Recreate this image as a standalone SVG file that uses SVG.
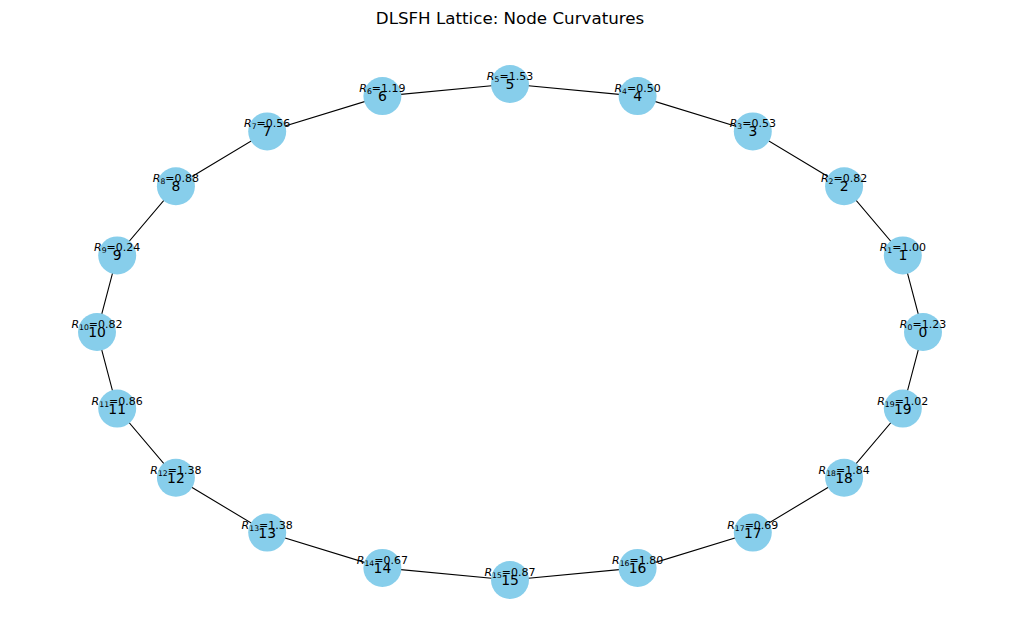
<svg xmlns="http://www.w3.org/2000/svg" width="1019" height="642" viewBox="0 0 1019 642">
<style>
.bg{fill:#ffffff}
.title{font-family:"DejaVu Sans",sans-serif;font-size:16.7px;fill:#000;text-anchor:middle}
.edge{fill:none;stroke:#000;stroke-width:1.1}
.node circle{fill:#87CEEB;stroke:none}
.num{font-family:"DejaVu Sans",sans-serif;font-size:13.9px;fill:#000;text-anchor:middle}
.lab{font-family:"DejaVu Sans",sans-serif;font-size:11px;fill:#000;text-anchor:middle}
.r{font-style:italic}
.sub{font-size:7.7px}
</style>
<rect class="bg" x="0" y="0" width="1019" height="642"/>
<text class="title" x="510" y="24">DLSFH Lattice: Node Curvatures</text>
<g id="edges">
<polygon class="edge" points="923,332 902.8,255.4 844.1,186.2 752.8,131.4 637.6,96.1 510,84 382.4,96.1 267.2,131.4 175.9,186.2 117.2,255.4 97,332 117.2,408.6 175.9,477.8 267.2,532.6 382.4,567.9 510,580 637.6,567.9 752.8,532.6 844.1,477.8 902.8,408.6"/>
</g>
<g id="node0" class="node"><circle cx="923" cy="332" r="19"/><text class="num" x="923" y="337">0</text><text class="lab" x="923" y="328"><tspan class="r">R</tspan><tspan class="sub" dy="2">0</tspan><tspan dy="-2">=1.23</tspan></text></g>
<g id="node1" class="node"><circle cx="902.8" cy="255.4" r="19"/><text class="num" x="902.8" y="260.4">1</text><text class="lab" x="902.8" y="251.4"><tspan class="r">R</tspan><tspan class="sub" dy="2">1</tspan><tspan dy="-2">=1.00</tspan></text></g>
<g id="node2" class="node"><circle cx="844.1" cy="186.2" r="19"/><text class="num" x="844.1" y="191.2">2</text><text class="lab" x="844.1" y="182.2"><tspan class="r">R</tspan><tspan class="sub" dy="2">2</tspan><tspan dy="-2">=0.82</tspan></text></g>
<g id="node3" class="node"><circle cx="752.8" cy="131.4" r="19"/><text class="num" x="752.8" y="136.4">3</text><text class="lab" x="752.8" y="127.4"><tspan class="r">R</tspan><tspan class="sub" dy="2">3</tspan><tspan dy="-2">=0.53</tspan></text></g>
<g id="node4" class="node"><circle cx="637.6" cy="96.1" r="19"/><text class="num" x="637.6" y="101.1">4</text><text class="lab" x="637.6" y="92.1"><tspan class="r">R</tspan><tspan class="sub" dy="2">4</tspan><tspan dy="-2">=0.50</tspan></text></g>
<g id="node5" class="node"><circle cx="510" cy="84" r="19"/><text class="num" x="510" y="89">5</text><text class="lab" x="510" y="80"><tspan class="r">R</tspan><tspan class="sub" dy="2">5</tspan><tspan dy="-2">=1.53</tspan></text></g>
<g id="node6" class="node"><circle cx="382.4" cy="96.1" r="19"/><text class="num" x="382.4" y="101.1">6</text><text class="lab" x="382.4" y="92.1"><tspan class="r">R</tspan><tspan class="sub" dy="2">6</tspan><tspan dy="-2">=1.19</tspan></text></g>
<g id="node7" class="node"><circle cx="267.2" cy="131.4" r="19"/><text class="num" x="267.2" y="136.4">7</text><text class="lab" x="267.2" y="127.4"><tspan class="r">R</tspan><tspan class="sub" dy="2">7</tspan><tspan dy="-2">=0.56</tspan></text></g>
<g id="node8" class="node"><circle cx="175.9" cy="186.2" r="19"/><text class="num" x="175.9" y="191.2">8</text><text class="lab" x="175.9" y="182.2"><tspan class="r">R</tspan><tspan class="sub" dy="2">8</tspan><tspan dy="-2">=0.88</tspan></text></g>
<g id="node9" class="node"><circle cx="117.2" cy="255.4" r="19"/><text class="num" x="117.2" y="260.4">9</text><text class="lab" x="117.2" y="251.4"><tspan class="r">R</tspan><tspan class="sub" dy="2">9</tspan><tspan dy="-2">=0.24</tspan></text></g>
<g id="node10" class="node"><circle cx="97" cy="332" r="19"/><text class="num" x="97" y="337">10</text><text class="lab" x="97" y="328"><tspan class="r">R</tspan><tspan class="sub" dy="2">10</tspan><tspan dy="-2">=0.82</tspan></text></g>
<g id="node11" class="node"><circle cx="117.2" cy="408.6" r="19"/><text class="num" x="117.2" y="413.6">11</text><text class="lab" x="117.2" y="404.6"><tspan class="r">R</tspan><tspan class="sub" dy="2">11</tspan><tspan dy="-2">=0.86</tspan></text></g>
<g id="node12" class="node"><circle cx="175.9" cy="477.8" r="19"/><text class="num" x="175.9" y="482.8">12</text><text class="lab" x="175.9" y="473.8"><tspan class="r">R</tspan><tspan class="sub" dy="2">12</tspan><tspan dy="-2">=1.38</tspan></text></g>
<g id="node13" class="node"><circle cx="267.2" cy="532.6" r="19"/><text class="num" x="267.2" y="537.6">13</text><text class="lab" x="267.2" y="528.6"><tspan class="r">R</tspan><tspan class="sub" dy="2">13</tspan><tspan dy="-2">=1.38</tspan></text></g>
<g id="node14" class="node"><circle cx="382.4" cy="567.9" r="19"/><text class="num" x="382.4" y="572.9">14</text><text class="lab" x="382.4" y="563.9"><tspan class="r">R</tspan><tspan class="sub" dy="2">14</tspan><tspan dy="-2">=0.67</tspan></text></g>
<g id="node15" class="node"><circle cx="510" cy="580" r="19"/><text class="num" x="510" y="585">15</text><text class="lab" x="510" y="576"><tspan class="r">R</tspan><tspan class="sub" dy="2">15</tspan><tspan dy="-2">=0.87</tspan></text></g>
<g id="node16" class="node"><circle cx="637.6" cy="567.9" r="19"/><text class="num" x="637.6" y="572.9">16</text><text class="lab" x="637.6" y="563.9"><tspan class="r">R</tspan><tspan class="sub" dy="2">16</tspan><tspan dy="-2">=1.80</tspan></text></g>
<g id="node17" class="node"><circle cx="752.8" cy="532.6" r="19"/><text class="num" x="752.8" y="537.6">17</text><text class="lab" x="752.8" y="528.6"><tspan class="r">R</tspan><tspan class="sub" dy="2">17</tspan><tspan dy="-2">=0.69</tspan></text></g>
<g id="node18" class="node"><circle cx="844.1" cy="477.8" r="19"/><text class="num" x="844.1" y="482.8">18</text><text class="lab" x="844.1" y="473.8"><tspan class="r">R</tspan><tspan class="sub" dy="2">18</tspan><tspan dy="-2">=1.84</tspan></text></g>
<g id="node19" class="node"><circle cx="902.8" cy="408.6" r="19"/><text class="num" x="902.8" y="413.6">19</text><text class="lab" x="902.8" y="404.6"><tspan class="r">R</tspan><tspan class="sub" dy="2">19</tspan><tspan dy="-2">=1.02</tspan></text></g>
</svg>
